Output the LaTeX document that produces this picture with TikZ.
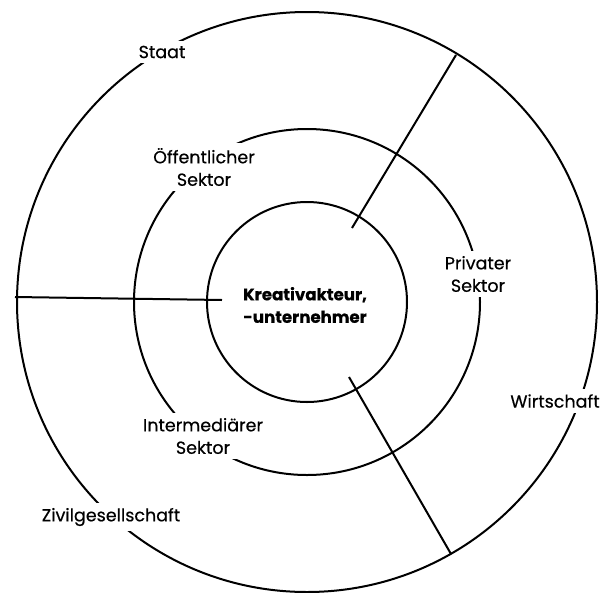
\documentclass[tikz,border=0pt]{standalone}
\usepackage{fontspec}
\setmainfont{Poppins}[FakeBold=0.4]
\begin{document}
\begin{tikzpicture}[x=1pt,y=-1pt,
  ring/.style={draw=black,line width=2pt},
  divider/.style={draw=black,line width=2pt},
  lbl/.style={fill=white,inner xsep=3pt,inner ysep=5pt,align=center,
    font=\fontsize{17.5}{22.5}\selectfont},
  core/.style={align=center,inner sep=0pt,font=\fontsize{16.6}{22.5}\selectfont\bfseries}]
\useasboundingbox (0,0) rectangle (600,592);
\coordinate (c) at (307,302);
% rings
\draw[ring] (c) circle[radius=290];
\draw[ring] (c) circle[radius=173];
\draw[ring] (c) circle[radius=100];
% dividers
\coordinate (d1a) at (352,228);
\coordinate (d1b) at (456,55);
\coordinate (d2a) at (222,300);
\coordinate (d2b) at (15,297);
\coordinate (d3a) at (349,377);
\coordinate (d3b) at (451,554);
\draw[divider] (d1a) -- (d1b);
\draw[divider] (d2a) -- (d2b);
\draw[divider] (d3a) -- (d3b);
% labels
\node[lbl] (staat) at (162,52) {Staat};
\node[lbl] (oeff) at (204,167) {Öffentlicher\\Sektor};
\node[lbl] (priv) at (478,274) {Privater\\Sektor};
\node[lbl] (inter) at (203,436) {Intermediärer\\Sektor};
\node[lbl] (zivil) at (111,517) {Zivilgesellschaft};
\node[lbl] (wirt) at (555,401) {Wirtschaft};
\node[core] (kern) at (305,305) {Kreativakteur,\\-unternehmer};
\end{tikzpicture}
\end{document}
